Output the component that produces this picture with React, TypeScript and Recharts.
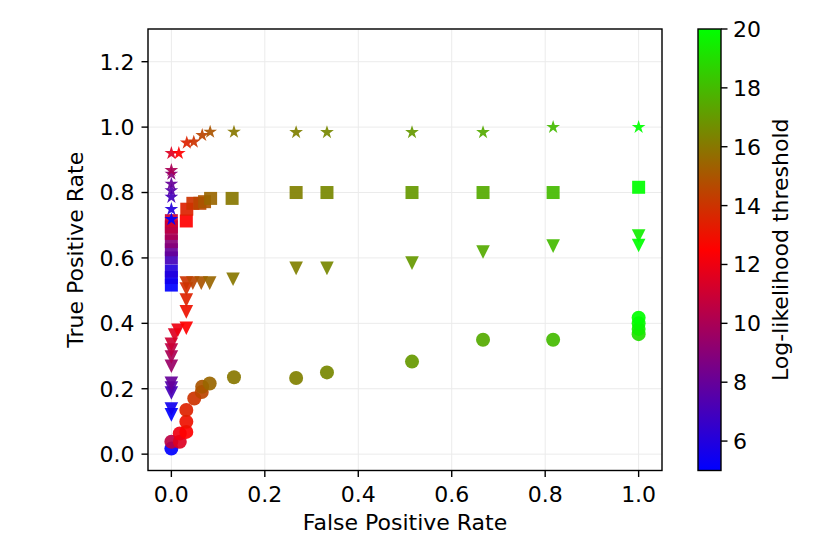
import React from "react"
import { ScatterChart, Scatter, XAxis, YAxis, CartesianGrid } from "recharts"

const xTicks = [0, 0.2, 0.4, 0.6, 0.8, 1.0]
const yTicks = [0, 0.2, 0.4, 0.6, 0.8, 1.0, 1.2]
const colorbarTicks = [6, 8, 10, 12, 14, 16, 18, 20]

// star series
const starFpr = [0, 0, 0, 0, 0, 0, 0, 0, 0.016, 0.033, 0.048, 0.066, 0.083, 0.134, 0.267, 0.333, 0.515, 0.667, 0.817, 1.0]
const starTpr = [0.718, 0.749, 0.786, 0.806, 0.826, 0.857, 0.868, 0.92, 0.92, 0.952, 0.955, 0.975, 0.985, 0.985, 0.984, 0.984, 0.984, 0.984, 1.0, 1.0]
const starThr = [5, 6, 7, 7.5, 8, 9, 10, 11.5, 12.5, 13.5, 14, 14.5, 15, 16, 16.25, 16.5, 17, 17.5, 18, 20]

// square series
const squareFpr = [0, 0, 0, 0, 0, 0, 0, 0, 0, 0.032, 0.033, 0.046, 0.061, 0.071, 0.084, 0.13, 0.267, 0.333, 0.515, 0.667, 0.817, 1.0]
const squareTpr = [0.517, 0.54, 0.56, 0.6, 0.625, 0.65, 0.675, 0.695, 0.714, 0.713, 0.749, 0.767, 0.767, 0.772, 0.782, 0.782, 0.8, 0.8, 0.8, 0.8, 0.8, 0.816]
const squareThr = [5, 5.5, 6, 7, 8, 9, 10, 10.5, 11, 12.5, 13.5, 14, 14.5, 15, 15.5, 16, 16.25, 16.5, 17, 17.5, 18, 20]

// triangle series
const triFpr = [0, 0, 0, 0, 0, 0, 0, 0, 0, 0.007, 0.014, 0.032, 0.032, 0.032, 0.032, 0.032, 0.046, 0.064, 0.082, 0.132, 0.267, 0.333, 0.515, 0.667, 0.817, 1.0, 1.0]
const triTpr = [0.12, 0.138, 0.187, 0.202, 0.217, 0.269, 0.297, 0.318, 0.336, 0.364, 0.379, 0.385, 0.435, 0.471, 0.505, 0.523, 0.523, 0.523, 0.523, 0.535, 0.568, 0.568, 0.584, 0.618, 0.636, 0.667, 0.638]
const triThr = [5, 5.5, 7, 7.5, 8, 9.5, 10, 10.5, 11, 11.5, 12, 12.5, 13, 13.5, 13.75, 14, 14.5, 15, 15.5, 16, 16.25, 16.5, 17, 17.5, 18, 19.5, 20]

// circle series
const circleFpr = [0, 0, 0.018, 0.018, 0.032, 0.032, 0.032, 0.049, 0.065, 0.066, 0.082, 0.134, 0.267, 0.333, 0.515, 0.667, 0.817, 1.0, 1.0, 1.0, 1.0]
const circleTpr = [0.017, 0.038, 0.038, 0.063, 0.068, 0.099, 0.135, 0.17, 0.19, 0.206, 0.216, 0.235, 0.233, 0.25, 0.283, 0.35, 0.35, 0.367, 0.383, 0.4, 0.417]
const circleThr = [5, 10.5, 11.5, 12, 12.5, 13, 13.5, 14, 14.5, 15, 15.5, 16, 16.25, 16.5, 17, 17.5, 18, 19, 19.5, 19.75, 20]

const T_MIN = 5
const T_MAX = 20
const FONT = "DejaVu Sans"

// blue -> red -> lime
const thresholdColor = (t: number) => {
  const mid = (T_MIN + T_MAX) / 2
  if (t <= mid) {
    const f = Math.max(0, (t - T_MIN) / (mid - T_MIN))
    return `rgb(${Math.round(255 * f)},0,${Math.round(255 * (1 - f))})`
  }
  const f = Math.min(1, (t - mid) / (T_MAX - mid))
  return `rgb(${Math.round(255 * (1 - f))},${Math.round(255 * f)},0)`
}

const toPoints = (fpr: number[], tpr: number[], thr: number[]) =>
  fpr.map((x, i) => ({ x, y: tpr[i], t: thr[i] }))

type Kind = "star" | "square" | "triangle" | "circle"

const makeShape = (kind: Kind) => (props: any) => {
  const { cx, cy, payload } = props
  if (cx == null || cy == null) return <g />
  const fill = thresholdColor(payload.t)
  const op = 0.92
  if (kind === "circle") return <circle cx={cx} cy={cy} r={7} fill={fill} fillOpacity={op} />
  if (kind === "square") return <rect x={cx - 6.5} y={cy - 6.5} width={13} height={13} fill={fill} fillOpacity={op} />
  if (kind === "triangle") {
    const h = 6.8
    const d = `M${cx - h},${cy - h}L${cx + h},${cy - h}L${cx},${cy + h}Z`
    return <path d={d} fill={fill} fillOpacity={op} />
  }
  const R = 7.2
  const r = R * 0.381966
  let d = ""
  for (let i = 0; i < 10; i++) {
    const a = -Math.PI / 2 + (i * Math.PI) / 5
    const rad = i % 2 === 0 ? R : r
    d += `${i === 0 ? "M" : "L"}${cx + rad * Math.cos(a)},${cy + rad * Math.sin(a)}`
  }
  return <path d={d + "Z"} fill={fill} fillOpacity={op} />
}

const PLOT_LEFT = 148
const PLOT_TOP = 29
const PLOT_RIGHT = 662
const PLOT_BOTTOM = 470.5
const CBAR_X = 698
const CBAR_W = 23

const tickStyle = { fill: "#000", fontSize: 22, fontFamily: FONT }

const App = () => {
  const cbarH = PLOT_BOTTOM - PLOT_TOP
  return (
    <div style={{ position: "absolute", left: 0, top: 0, width: 830, height: 554, background: "#fff" }}>
      <ScatterChart
        width={830}
        height={554}
        margin={{ top: PLOT_TOP, right: 830 - PLOT_RIGHT, bottom: 0, left: 0 }}
      >
        <CartesianGrid stroke="#ebebeb" strokeWidth={1} />
        <XAxis
          type="number"
          dataKey="x"
          domain={[-0.05, 1.05]}
          ticks={xTicks}
          interval={0}
          allowDataOverflow
          tickFormatter={(v: number) => v.toFixed(1)}
          height={554 - PLOT_BOTTOM}
          axisLine={false}
          tickLine={{ stroke: "#000", strokeWidth: 1.4 }}
          tickSize={6.5}
          tickMargin={9}
          tick={tickStyle}
        />
        <YAxis
          type="number"
          dataKey="y"
          domain={[-0.05, 1.3]}
          ticks={yTicks}
          interval={0}
          allowDataOverflow
          tickFormatter={(v: number) => v.toFixed(1)}
          width={PLOT_LEFT}
          axisLine={false}
          tickLine={{ stroke: "#000", strokeWidth: 1.4 }}
          tickSize={6.5}
          tickMargin={7}
          tick={tickStyle}
        />
        <Scatter data={toPoints(circleFpr, circleTpr, circleThr)} shape={makeShape("circle")} isAnimationActive={false} />
        <Scatter data={toPoints(triFpr, triTpr, triThr)} shape={makeShape("triangle")} isAnimationActive={false} />
        <Scatter data={toPoints(squareFpr, squareTpr, squareThr)} shape={makeShape("square")} isAnimationActive={false} />
        <Scatter data={toPoints(starFpr, starTpr, starThr)} shape={makeShape("star")} isAnimationActive={false} />
      </ScatterChart>
      <svg
        width={830}
        height={554}
        style={{ position: "absolute", left: 0, top: 0, pointerEvents: "none" }}
        fontFamily={FONT}
      >
        <defs>
          <linearGradient id="cmap" x1="0" y1="1" x2="0" y2="0">
            <stop offset="0%" stopColor={thresholdColor(5)} />
            <stop offset="50%" stopColor={thresholdColor(12.5)} />
            <stop offset="100%" stopColor={thresholdColor(20)} />
          </linearGradient>
        </defs>
        <rect
          x={PLOT_LEFT}
          y={PLOT_TOP}
          width={PLOT_RIGHT - PLOT_LEFT}
          height={PLOT_BOTTOM - PLOT_TOP}
          fill="none"
          stroke="#000"
          strokeWidth={1.4}
        />
        <text x={(PLOT_LEFT + PLOT_RIGHT) / 2} y={530} textAnchor="middle" fontSize={22}>
          False Positive Rate
        </text>
        <text
          transform={`translate(83,${(PLOT_TOP + PLOT_BOTTOM) / 2}) rotate(-90)`}
          textAnchor="middle"
          fontSize={22}
        >
          True Positive Rate
        </text>

        <rect x={CBAR_X} y={PLOT_TOP} width={CBAR_W} height={cbarH} fill="url(#cmap)" stroke="#000" strokeWidth={1.4} />
        {colorbarTicks.map((v) => {
          const y = PLOT_BOTTOM - ((v - T_MIN) / (T_MAX - T_MIN)) * cbarH
          return (
            <g key={v}>
              <line x1={CBAR_X + CBAR_W} x2={CBAR_X + CBAR_W + 6.5} y1={y} y2={y} stroke="#000" strokeWidth={1.4} />
              <text x={CBAR_X + CBAR_W + 12} y={y + 8} fontSize={22}>
                {v}
              </text>
            </g>
          )
        })}
        <text
          transform={`translate(788,${(PLOT_TOP + PLOT_BOTTOM) / 2}) rotate(-90)`}
          textAnchor="middle"
          fontSize={22}
        >
          Log-likelihood threshold
        </text>
      </svg>
    </div>
  )
}

export default App
